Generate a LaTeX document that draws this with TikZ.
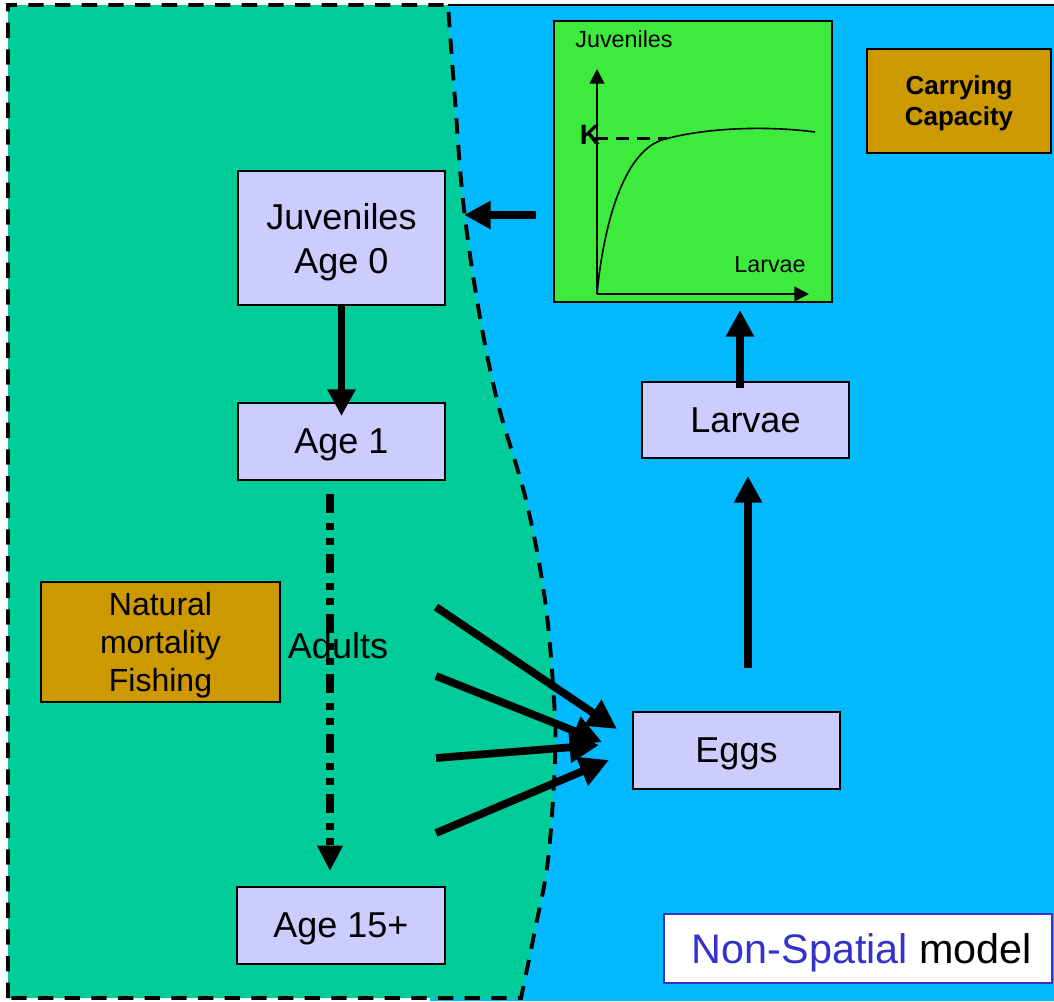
\documentclass[tikz,border=0pt]{standalone}
\usepackage{fontspec}
\setmainfont{Liberation Sans}
\usetikzlibrary{arrows.meta,calc}
\definecolor{seagreen}{HTML}{00CC99}
\definecolor{skyblue}{HTML}{00B9FF}
\definecolor{plotgreen}{HTML}{3DEB3D}
\definecolor{lavender}{HTML}{CCCCFF}
\definecolor{gold}{HTML}{CC9900}
\definecolor{labelblue}{HTML}{3333CC}

\begin{document}
\begin{tikzpicture}[x=0.75pt,y=-0.75pt,
  stage/.style={draw=black,line width=1.5pt,fill=lavender,inner sep=0pt,text depth=0pt,
    align=center,font=\fontsize{27}{33}\selectfont},
  factor/.style={draw=black,line width=1.5pt,fill=gold,inner sep=0pt,text depth=0pt,align=center},
  flow/.style={line width=5.8pt,-{Triangle[length=20pt,width=20pt]}},
  spawn/.style={line width=5.8pt,-{Triangle[length=22pt,width=22pt]}},
  axisline/.style={line width=1.5pt,-{Triangle[length=11pt,width=11pt]}},
  border/.style={line width=2.9pt,dash pattern=on 11.5pt off 8.5pt},
  small/.style={font=\fontsize{17.5}{21}\selectfont}
]
% page
\fill[white] (0,0) rectangle (1054,1001);
\useasboundingbox (0,0) rectangle (1054,1001);

% ocean side
\fill[skyblue] (430,5) rectangle (1054,1001);
\draw[line width=2pt] (448,5) -- (1054,5);

% coastal region with its curved edge
\def\coastline{(448,5) (455,100) (463,200) (477,300) (497,400) (526,500) (545,600) (554,700) (555,760) (548,860) (535,930) (521,998)}
\fill[seagreen] (8,5) -- plot[smooth,tension=0.6] coordinates \coastline -- (8,998) -- cycle;
\draw[border] (8,998) -- (8,5) -- plot[smooth,tension=0.6] coordinates \coastline -- cycle;

% recruitment curve panel
\node[draw=black,line width=1.5pt,fill=plotgreen,inner sep=0pt,
  minimum width=208.5pt,minimum height=210.75pt] (chart) at (693,161.5) {};
\coordinate (orig) at (597,294);
\coordinate (ytop) at (597,69);
\coordinate (xend) at (809,294);
\draw[axisline] (orig) -- (ytop);
\draw[axisline] (orig) -- (xend);
\draw[line width=1.2pt] (orig) .. controls (603,230) and (622,150) .. (665,139)
  .. controls (710,127) and (770,126) .. (815,132);
\node[font=\bfseries\fontsize{21}{24}\selectfont,inner sep=0pt] (klabel) at (590,135) {K};
\coordinate (kend) at (667,138);
\draw[line width=2.25pt,dash pattern=on 9.75pt off 6pt] (595,138) -- (kend);
\node[small,anchor=base,inner sep=0pt] (ylabel) at (624,47) {Juveniles};
\node[small,anchor=base,inner sep=0pt] (xlabel) at (770,272) {Larvae};

% boxes
\node[factor,minimum width=138pt,minimum height=78pt,
  font=\bfseries\fontsize{19.5}{23.25}\selectfont] (cc) at (959,101) {Carrying\\Capacity};
\node[stage,minimum width=155.25pt,minimum height=100.5pt] (juv) at (341.5,238) {Juveniles\\Age 0};
\node[stage,minimum width=155.25pt,minimum height=57.75pt] (age1) at (341.5,441.5) {Age 1};
\node[stage,minimum width=156pt,minimum height=57.75pt] (age15) at (341,925.5) {Age 15+};
\node[factor,minimum width=179.25pt,minimum height=90pt,
  font=\fontsize{24}{28.5}\selectfont] (mort) at (160.5,642) {Natural\\mortality\\Fishing};
\node[stage,minimum width=155.25pt,minimum height=57pt] (larvae) at (745.5,420) {Larvae};
\node[stage,minimum width=155.25pt,minimum height=57.75pt] (eggs) at (736.5,750.5) {Eggs};
\node[draw=labelblue,line width=1.5pt,fill=white,inner sep=0pt,text depth=0pt,
  minimum width=291pt,minimum height=51.75pt,font=\fontsize{31}{36}\selectfont]
  (nsm) at (858,948.5) {\hspace{6pt}\textcolor{labelblue}{Non-Spatial} model};

% life-cycle flows
\draw[flow] ($(chart.west)+(-17,53.5)$) -- ($(juv.east)+(18,-23)$);
\draw[flow] (juv.south) -- ($(age1.north)+(0,14)$);
\draw[line width=5.6pt,dash pattern=on 14pt off 8pt on 5pt off 6pt on 5pt off 7pt,
  -{Triangle[length=19pt,width=18pt]}] ($(age1.south)+(-11.5,13)$) -- ($(age15.north)+(-11,-15)$);
\node[font=\fontsize{27}{33}\selectfont,anchor=base,inner sep=0pt] (adults) at (338,658) {Adults};
\draw[flow] ($(larvae.north)+(-5.5,7)$) -- ($(chart.south)+(47,7)$);
\draw[flow] ($(eggs.north)+(11.5,-43)$) -- ($(larvae.south)+(2.5,17)$);

% spawning from the adult classes
\coordinate (ad1) at (436,607);
\coordinate (ad2) at (436,676);
\coordinate (ad3) at (436,758);
\coordinate (ad4) at (436,833);
\draw[spawn] (ad1) -- ($(eggs.west)+(-15,-21.5)$);
\draw[spawn] (ad2) -- ($(eggs.west)+(-30,-8.5)$);
\draw[spawn] (ad3) -- ($(eggs.west)+(-33,-5.5)$);
\draw[spawn] (ad4) -- ($(eggs.west)+(-23,9.5)$);
\end{tikzpicture}
\end{document}
